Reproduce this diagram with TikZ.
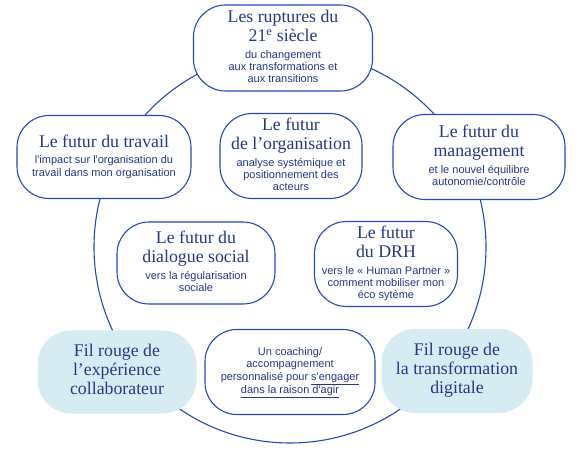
\documentclass[tikz,border=0pt]{standalone}
\usepackage{fontspec}
\newfontfamily\titlefam{Liberation Serif}
\newfontfamily\descfam{Liberation Sans}
\definecolor{inkblue}{RGB}{40,56,136}
\definecolor{lineblue}{RGB}{38,72,190}
\definecolor{paleblue}{RGB}{214,235,242}
\newcommand\titre[1]{{\titlefam\fontsize{17.8}{19}\selectfont\begin{tabular}{@{}c@{}}#1\end{tabular}}}
\newcommand\desc[1]{{\descfam\fontsize{11}{12.4}\selectfont\begin{tabular}{@{}c@{}}#1\end{tabular}}}
\tikzset{
  bulle/.style={draw=lineblue, line width=1.1pt, fill=white, rounded corners=32pt,
    align=center, inner sep=0pt, text=inkblue},
  filrouge/.style={fill=paleblue, rounded corners=34pt, align=center, inner sep=0pt, text=inkblue},
}

\begin{document}
\begin{tikzpicture}[x=1pt, y=-1pt]
    \useasboundingbox (0,0) rectangle (587,449);
    % Big ring behind the boxes
    \coordinate (centre) at (290,247);
    \draw[lineblue, line width=1.1pt] (centre) circle[radius=196pt];

    % Top
    \node[bulle, minimum width=179pt, minimum height=86pt] (ruptures) at (283,48)
      {\titre{Les ruptures du\\21\textsuperscript{e} siècle}\\[1pt]\desc{du changement\\aux transformations et\\aux transitions}};

    % Second row
    \node[bulle, minimum width=174pt, minimum height=83pt] (travail) at (104,157)
      {\titre{Le futur du travail}\\[1pt]\desc{l'impact sur l'organisation du\\travail dans mon organisation}};
    \node[bulle, minimum width=142pt, minimum height=85pt] (organisation) at (291,156)
      {\titre{Le futur\\de l’organisation}\\[1pt]\desc{analyse systémique et\\positionnement des\\acteurs}};
    \node[bulle, minimum width=172pt, minimum height=85pt] (management) at (479,157)
      {\titre{Le futur du\\management}\\[1pt]\desc{et le nouvel équilibre\\autonomie/contrôle}};

    % Third row
    \node[bulle, minimum width=158pt, minimum height=82pt] (dialogue) at (196,263)
      {\titre{Le futur du\\dialogue social}\\[1pt]\desc{vers la régularisation\\sociale}};
    \node[bulle, minimum width=143pt, minimum height=85pt] (drh) at (386,264)
      {\titre{Le futur\\du DRH}\\[1pt]\desc{vers le « Human Partner »\\comment mobiliser mon\\éco sytème}};

    % Bottom row
    \node[filrouge, minimum width=159pt, minimum height=83pt] (experience) at (117,372)
      {\titre{Fil rouge de\\l’expérience\\collaborateur}};
    \node[bulle, minimum width=170pt, minimum height=85pt] (coaching) at (290,372)
      {\desc{Un coaching/\\accompagnement\\personnalisé pour \underline{s'engager}\\\underline{dans la raison d'agir}}};
    \node[filrouge, minimum width=151pt, minimum height=84pt] (digitale) at (457,371)
      {\titre{Fil rouge de\\la transformation\\digitale}};
\end{tikzpicture}
\end{document}
